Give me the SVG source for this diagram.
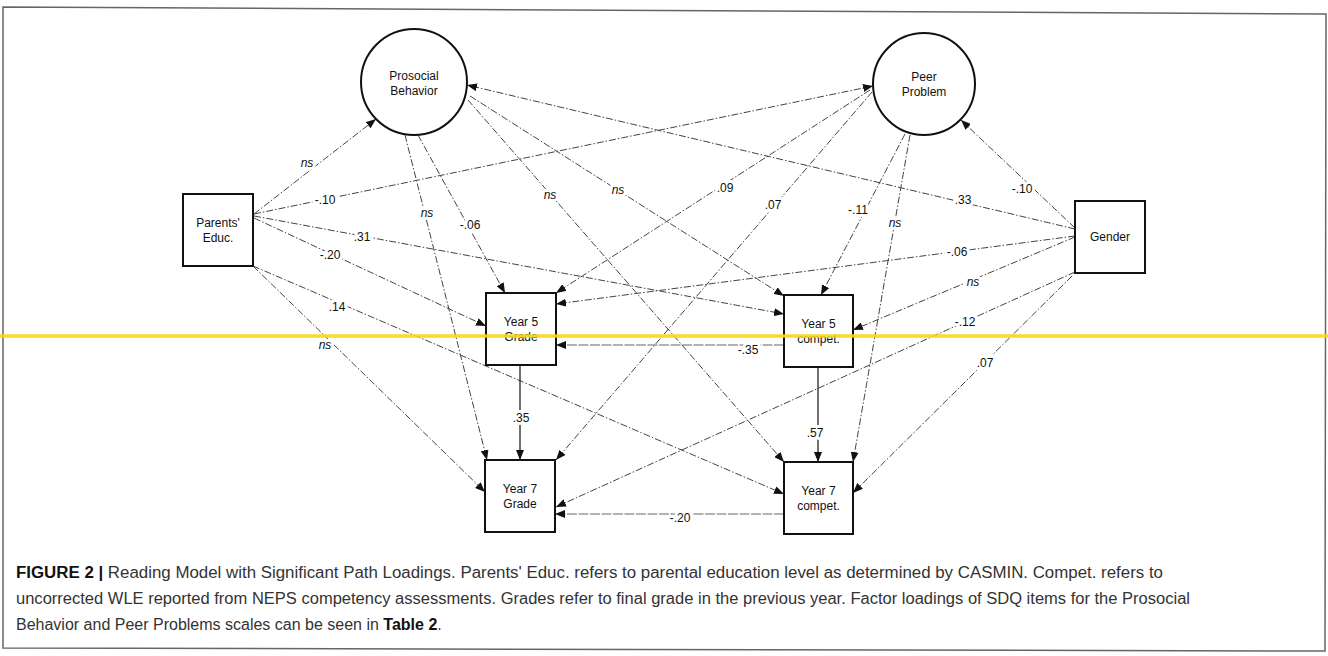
<svg xmlns="http://www.w3.org/2000/svg" width="1328" height="656" viewBox="0 0 1328 656">
<style>
.nd{fill:#fff;stroke:#111;stroke-width:2}
.nt{font-family:"Liberation Sans",Arial,sans-serif;font-size:12px;fill:#111;text-anchor:middle}
.c{fill:none;stroke:#444;stroke-width:1;stroke-dasharray:7 2 1.5 2}
.h{fill:none;stroke:#666;stroke-width:1.2;stroke-dasharray:10 1.5}
.v{fill:none;stroke:#222;stroke-width:1.3}
.lb{font-family:"Liberation Sans",Arial,sans-serif;font-size:12px;fill:#111;text-anchor:middle;stroke:#fff;stroke-width:6;paint-order:stroke;stroke-linejoin:round}
.ns{font-style:italic}
.cap{font-family:"Liberation Sans",Arial,sans-serif;font-size:16px;fill:#333}
</style>
<defs>
<marker id="ah" viewBox="0 0 10 8" refX="10" refY="4" markerWidth="10" markerHeight="8" markerUnits="userSpaceOnUse" orient="auto">
<path d="M0,0 L10,4 L0,8 Z" fill="#111"/>
</marker>
</defs>
<rect width="1328" height="656" fill="#fff"/>
<polygon points="3,7 1326,14 1325,651 3,648" fill="none" stroke="#666" stroke-width="1.5"/>

<g id="connectors">
<path class="c" d="M254,214 L376,119" marker-end="url(#ah)"/>
<path class="c" d="M254,214 L873,86" marker-end="url(#ah)"/>
<path class="c" d="M254,216 L784,314" marker-end="url(#ah)"/>
<path class="c" d="M254,218 L486,326" marker-end="url(#ah)"/>
<path class="c" d="M253,266 L784,494" marker-end="url(#ah)"/>
<path class="c" d="M253,266 L485,492" marker-end="url(#ah)"/>
<path class="c" d="M405,135 L487,460" marker-end="url(#ah)"/>
<path class="c" d="M418,135 L505,293" marker-end="url(#ah)"/>
<path class="c" d="M468,100 L784,462" marker-end="url(#ah)"/>
<path class="c" d="M470,96 L784,296" marker-end="url(#ah)"/>
<path class="c" d="M1075,229 L467,85" marker-end="url(#ah)"/>
<path class="c" d="M870,90 L556,293" marker-end="url(#ah)"/>
<path class="c" d="M872,92 L556,460" marker-end="url(#ah)"/>
<path class="c" d="M905,134 L821,295" marker-end="url(#ah)"/>
<path class="c" d="M910,135 L853,462" marker-end="url(#ah)"/>
<path class="c" d="M1075,228 L961,120" marker-end="url(#ah)"/>
<path class="c" d="M1075,236 L556,304" marker-end="url(#ah)"/>
<path class="c" d="M1075,237 L853,330" marker-end="url(#ah)"/>
<path class="c" d="M1075,272 L556,507" marker-end="url(#ah)"/>
<path class="c" d="M1072,276 L853,493" marker-end="url(#ah)"/>
<path class="h" d="M784,345 L556,345" marker-end="url(#ah)"/>
<path class="h" d="M784,514 L555,514" marker-end="url(#ah)"/>
<path class="v" d="M520,365 L520,460" marker-end="url(#ah)"/>
<path class="v" d="M818,367 L818,462" marker-end="url(#ah)"/>

<text class="lb ns" x="307" y="167">ns</text>
<text class="lb" x="325" y="204">-.10</text>
<text class="lb" x="362" y="241">.31</text>
<text class="lb" x="330" y="259">-.20</text>
<text class="lb" x="337" y="311">.14</text>
<text class="lb ns" x="325" y="349">ns</text>
<text class="lb ns" x="427" y="217">ns</text>
<text class="lb" x="470" y="229">-.06</text>
<text class="lb ns" x="550" y="199">ns</text>
<text class="lb ns" x="618" y="194">ns</text>
<text class="lb" x="963" y="204">.33</text>
<text class="lb" x="725" y="192">.09</text>
<text class="lb" x="773" y="209">.07</text>
<text class="lb" x="858" y="214">-.11</text>
<text class="lb ns" x="895" y="227">ns</text>
<text class="lb" x="1022" y="193">-.10</text>
<text class="lb" x="957" y="256">-.06</text>
<text class="lb ns" x="973" y="286">ns</text>
<text class="lb" x="965" y="326">-.12</text>
<text class="lb" x="985" y="367">.07</text>
<text class="lb" x="748" y="354">-.35</text>
<text class="lb" x="680" y="522">-.20</text>
<text class="lb" x="521" y="422">.35</text>
<text class="lb" x="815" y="437">.57</text>
</g>

<g id="prosocial">
<circle class="nd" cx="414" cy="82" r="53"/>
<text class="nt" x="414" y="80">Prosocial</text>
<text class="nt" x="414" y="95">Behavior</text>
</g>
<g id="peer">
<circle class="nd" cx="924" cy="84" r="51"/>
<text class="nt" x="924" y="81">Peer</text>
<text class="nt" x="924" y="96">Problem</text>
</g>
<g id="parents">
<rect class="nd" x="183" y="194" width="70" height="72"/>
<text class="nt" x="218" y="227">Parents'</text>
<text class="nt" x="218" y="242">Educ.</text>
</g>
<g id="gender">
<rect class="nd" x="1075" y="201" width="70" height="72"/>
<text class="nt" x="1110" y="241">Gender</text>
</g>
<g id="y5grade">
<rect class="nd" x="486" y="293" width="70" height="72"/>
<text class="nt" x="521" y="326">Year 5</text>
<text class="nt" x="521" y="341">Grade</text>
</g>
<g id="y5compet">
<rect class="nd" x="784" y="295" width="69" height="72"/>
<text class="nt" x="818.5" y="328">Year 5</text>
<text class="nt" x="818.5" y="343">compet.</text>
</g>
<g id="y7grade">
<rect class="nd" x="485" y="460" width="70" height="72"/>
<text class="nt" x="520" y="493">Year 7</text>
<text class="nt" x="520" y="508">Grade</text>
</g>
<g id="y7compet">
<rect class="nd" x="784" y="462" width="69" height="72"/>
<text class="nt" x="818.5" y="495">Year 7</text>
<text class="nt" x="818.5" y="510">compet.</text>
</g>

<line x1="0" y1="336" x2="1328" y2="336" stroke="#f7d917" stroke-width="3.5" opacity="0.9"/>

<g id="caption">
<text class="cap" x="16" y="578" textLength="1147" lengthAdjust="spacingAndGlyphs"><tspan font-weight="bold" fill="#111">FIGURE 2 |</tspan> Reading Model with Significant Path Loadings. Parents' Educ. refers to parental education level as determined by CASMIN. Compet. refers to</text>
<text class="cap" x="16" y="604" textLength="1174" lengthAdjust="spacingAndGlyphs">uncorrected WLE reported from NEPS competency assessments. Grades refer to final grade in the previous year. Factor loadings of SDQ items for the Prosocial</text>
<text class="cap" x="16" y="630">Behavior and Peer Problems scales can be seen in <tspan font-weight="bold" fill="#111">Table 2</tspan>.</text>
</g>
</svg>
